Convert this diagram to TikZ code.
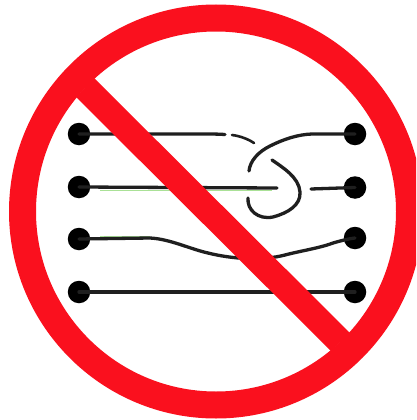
\documentclass[tikz,border=0pt]{standalone}
\definecolor{signred}{RGB}{250,16,30}
\definecolor{tingreen}{RGB}{170,225,150}
\tikzset{
  pin/.style={circle,fill=black,draw=none,minimum size=22.5pt,inner sep=0pt},
  wire/.style={draw=black!88,line width=3.3pt,line cap=round,line join=round},
  tint/.style={draw=tingreen,line width=1pt},
  ring/.style={fill=signred,even odd rule,draw=none}
}
\begin{document}
\begin{tikzpicture}[x=1pt,y=-1pt]
\useasboundingbox (0,0) rectangle (416,420);
\clip (0,0) rectangle (416,420);
\fill[white] (0,0) rectangle (416,420);
% pins
\node[pin] (l1) at (79,134) {};
\node[pin] (l2) at (79,187) {};
\node[pin] (l3) at (79,239) {};
\node[pin] (l4) at (79,292) {};
\node[pin] (r1) at (355,134) {};
\node[pin] (r2) at (355,187.5) {};
\node[pin] (r3) at (355,238) {};
\node[pin] (r4) at (355,292) {};
\coordinate (e1) at (225,134.5);
\coordinate (e1a) at (232,135);
\coordinate (e1b) at (254,143);
\coordinate (e2) at (277,188);
\coordinate (e2r) at (311,189);
\coordinate (h1) at (272,160);
\coordinate (h2) at (248,198);
\coordinate (e3) at (249,171);
% faint green fringes
\draw[tint] (100,190.2) -- (272,190.2);
\draw[tint] (100,236) -- (150,236);
% wires
\draw[wire] (l1.center) -- (200,134) .. controls (212,134) and (218,134) .. (e1);
\draw[wire,line width=2.6pt] (e1a) .. controls (240,136) and (248,139) .. (e1b);
\draw[wire] (r1.center) -- (312,134) .. controls (298,134.5) and (284,139) .. (270,146)
  .. controls (258,152) and (250,161) .. (e3);
\draw[wire] (l2.center) -- (e2);
\draw[wire] (h1) .. controls (282,167) and (299,177) .. (300,192)
  .. controls (301,205) and (288,213) .. (273,217)
  .. controls (258,220) and (247,210) .. (h2);
\draw[wire] (e2r) -- (r2.center);
\draw[wire] (l3.center) -- (150,238) .. controls (170,239) and (190,249) .. (208,253)
  .. controls (232,259) and (262,261) .. (285,255)
  .. controls (300,251) and (320,248) .. (333,243)
  .. controls (340,241) and (347,239) .. (r3.center);
\draw[wire] (l4.center) -- (r4.center);
% prohibition sign
\path[ring] (216,211.5) circle[radius=207] (216,211.5) circle[radius=180];
\fill[signred] (94,78) -- (350,333) -- (331,351) -- (76,97) -- cycle;
\end{tikzpicture}
\end{document}
